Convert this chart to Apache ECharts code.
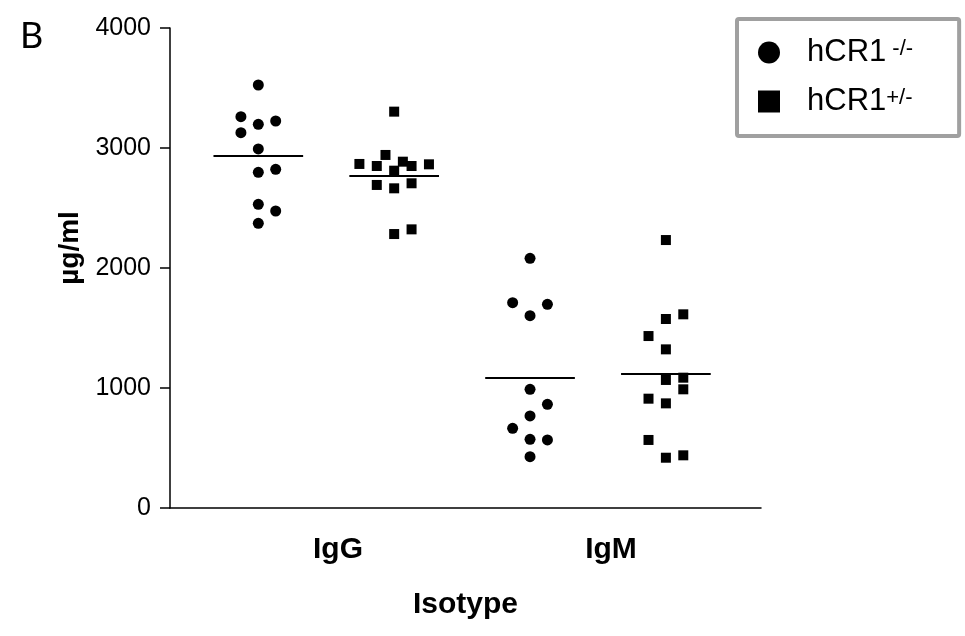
<!DOCTYPE html>
<html>
<head>
<meta charset="utf-8">
<script src="https://cdn.jsdelivr.net/npm/echarts@6/dist/echarts.min.js"></script>
<style>
html,body{margin:0;padding:0;background:#fff;}
#chart{width:965px;height:636px;}
</style>
</head>
<body>
<div id="chart"></div>
<script>
// groups on the x axis
var isotypes = ['IgG', 'IgM'];
var yTicks = [0, 1000, 2000, 3000, 4000];

// values (µg/ml)
var igG_ko  = [3525, 3261, 3197, 3225, 3128, 2992, 2797, 2822, 2531, 2475, 2372];
var igG_het = [3303, 2942, 2867, 2850, 2886, 2850, 2864, 2811, 2692, 2664, 2706, 2283, 2322];
var igM_ko  = [2081, 1711, 1697, 1603, 989, 864, 767, 664, 572, 567, 428];
var igM_het = [2233, 1614, 1575, 1433, 1322, 1067, 1086, 989, 911, 872, 567, 419, 439];

// horizontal scatter step of each point (column offset)
var igG_ko_jit  = [0, -1, 0, 1, -1, 0, 0, 1, 0, 1, 0];
var igG_het_jit = [0, -0.5, -2, -1, 0.5, 1, 2, 0, -1, 0, 1, 0, 1];
var igM_ko_jit  = [0, -1, 1, 0, 0, 1, 0, -1, 0, 1, 0];
var igM_het_jit = [0, 1, 0, -1, 0, 0, 1, 1, -1, 0, -1, 0, 1];

var STEP = 0.128;
var HALF = 0.33;

function pts(pos, vals, jit) {
    return vals.map(function (v, i) { return [pos + jit[i] * STEP, v]; });
}
function mean(a) {
    var s = 0;
    a.forEach(function (v) { s += v; });
    return s / a.length;
}
function meanLine(pos, vals) {
    var m = mean(vals);
    return [{coord: [pos - HALF, m]}, {coord: [pos + HALF, m]}];
}

var font = 'Liberation Sans, Arial, sans-serif';

var chart = echarts.init(document.getElementById('chart'));
var option = {
    animation: false,
    backgroundColor: '#fff',
    title: {
        text: 'B',
        left: 15,
        top: 13,
        textStyle: {fontFamily: 'Lato, sans-serif', fontWeight: 'normal', fontSize: 36, color: '#000'}
    },
    grid: [
        {left: 170, right: 204, top: 28, bottom: 128},
        {left: 201.5, width: 546, top: 28, bottom: 128}
    ],
    legend: {
        orient: 'vertical',
        left: 737,
        top: 19,
        itemWidth: 22,
        itemHeight: 22,
        itemGap: 18,
        padding: [18, 46, 19, 21],
        borderColor: '#a0a0a0',
        borderWidth: 4,
        borderRadius: 2,
        formatter: function (name) {
            return '{a|hCR1}{s|' + name.slice(4) + '}';
        },
        textStyle: {
            rich: {
                a: {fontFamily: font, fontSize: 31, color: '#000', padding: [0, 0, 0, 22], lineHeight: 30},
                s: {fontFamily: font, fontSize: 22, color: '#000', verticalAlign: 'top', lineHeight: 22}
            }
        },
        data: ['hCR1 -/-', 'hCR1+/-']
    },
    xAxis: [
        {
            type: 'value',
            gridIndex: 0,
            min: 0.35,
            max: 4.7,
            name: 'Isotype',
            nameLocation: 'middle',
            nameGap: 82,
            nameTextStyle: {fontFamily: font, fontWeight: 'bold', fontSize: 30, color: '#000'},
            axisLine: {lineStyle: {color: '#000', width: 1.5}},
            axisTick: {show: false},
            axisLabel: {show: false},
            splitLine: {show: false}
        },
        {
            type: 'category',
            gridIndex: 1,
            data: isotypes,
            axisLine: {show: false},
            axisTick: {show: false},
            axisLabel: {margin: 27, fontFamily: font, fontWeight: 'bold', fontSize: 30, color: '#000'},
            splitLine: {show: false}
        }
    ],
    yAxis: [
        {
            type: 'value',
            gridIndex: 0,
            min: yTicks[0],
            max: yTicks[yTicks.length - 1],
            interval: 1000,
            name: 'µg/ml',
            nameLocation: 'middle',
            nameGap: 82,
            nameTextStyle: {fontFamily: font, fontWeight: 'bold', fontSize: 28, color: '#000', padding: [0, 0, 0, 40]},
            axisLine: {show: true, lineStyle: {color: '#000', width: 1.5}},
            axisTick: {show: true, length: 10, lineStyle: {color: '#000', width: 1.5}},
            axisLabel: {
                margin: 19, fontFamily: font, fontSize: 25, color: '#000',
                formatter: function (v) { return String(v); }
            },
            splitLine: {show: false}
        },
        {
            type: 'value',
            gridIndex: 1,
            show: false
        }
    ],
    series: [
        {
            name: 'hCR1 -/-',
            type: 'scatter',
            symbol: 'circle',
            symbolSize: 11,
            itemStyle: {color: '#000', opacity: 1},
            data: pts(1, igG_ko, igG_ko_jit).concat(pts(3, igM_ko, igM_ko_jit)),
            markLine: {
                silent: true,
                symbol: 'none',
                label: {show: false},
                lineStyle: {color: '#000', width: 2, type: 'solid', opacity: 1},
                data: [meanLine(1, igG_ko), meanLine(3, igM_ko)]
            }
        },
        {
            name: 'hCR1+/-',
            type: 'scatter',
            symbol: 'rect',
            symbolSize: 10,
            itemStyle: {color: '#000', opacity: 1},
            data: pts(2, igG_het, igG_het_jit).concat(pts(4, igM_het, igM_het_jit)),
            markLine: {
                silent: true,
                symbol: 'none',
                label: {show: false},
                lineStyle: {color: '#000', width: 2, type: 'solid', opacity: 1},
                data: [meanLine(2, igG_het), meanLine(4, igM_het)]
            }
        }
    ]
};
chart.setOption(option);
</script>
</body>
</html>
